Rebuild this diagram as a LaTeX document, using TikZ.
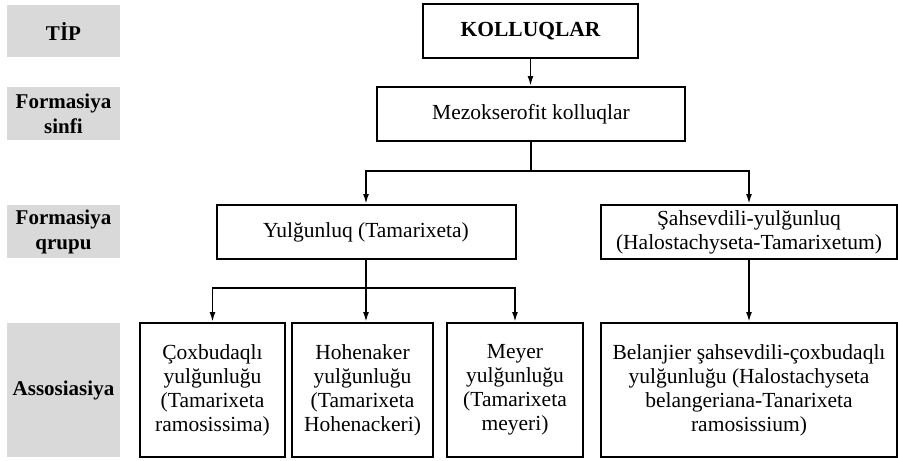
\documentclass[tikz,border=0pt]{standalone}
\usepackage{fontspec}
\setmainfont{Liberation Serif}
\usetikzlibrary{arrows.meta}
\definecolor{labelgray}{HTML}{D9D9D9}
\tikzset{
  levellabel/.style={fill=labelgray, inner sep=0pt, align=center,
    font=\fontsize{21}{25}\selectfont\bfseries},
  unitbox/.style={draw, line width=2pt, inner sep=0pt, align=center,
    font=\fontsize{21.5}{24}\selectfont},
  link/.style={line width=1.8pt},
  arr/.style={line width=1.8pt, -{Latex[length=10pt,width=6pt]}}
}
\begin{document}
\begin{tikzpicture}[x=1pt,y=-1pt]
\useasboundingbox (0,0) rectangle (898,461);

% level labels on the left
\node[levellabel, minimum width=113pt, minimum height=52pt] (tip) at (63.5,31) {TİP};
\node[levellabel, minimum width=113pt, minimum height=53pt] (sinfi) at (63.5,113.5) {Formasiya\\sinfi};
\node[levellabel, minimum width=113pt, minimum height=53pt] (qrupu) at (63.5,231.5) {Formasiya\\qrupu};
\node[levellabel, minimum width=113pt, minimum height=134pt] (assos) at (63.5,390) {Assosiasiya};

% hierarchy boxes
\node[unitbox, minimum width=215pt, minimum height=54pt, font=\fontsize{21.5}{24}\selectfont\bfseries] (kol) at (530.5,31) {KOLLUQLAR};
\node[unitbox, minimum width=308pt, minimum height=54pt] (mezo) at (531,114) {Mezokserofit kolluqlar};
\node[unitbox, minimum width=299pt, minimum height=54pt] (yul) at (366,232) {Yulğunluq (Tamarixeta)};
\node[unitbox, minimum width=296pt, minimum height=54pt] (sah) at (749,232) {Şahsevdili-yulğunluq\\(Halostachyseta-Tamarixetum)};

\node[unitbox, minimum width=145pt, minimum height=134pt] (a1) at (212.5,390) {Çoxbudaqlı\\yulğunluğu\\(Tamarixeta\\ramosissima)};
\node[unitbox, minimum width=141pt, minimum height=134pt] (a2) at (362.5,390) {Hohenaker\\yulğunluğu\\(Tamarixeta\\Hohenackeri)};
\node[unitbox, minimum width=136pt, minimum height=134pt] (a3) at (515,390) {Meyer\\yulğunluğu\\(Tamarixeta\\meyeri)};
\node[unitbox, minimum width=296pt, minimum height=134pt] (a4) at (749,390) {Belanjier şahsevdili-çoxbudaqlı\\yulğunluğu (Halostachyseta\\belangeriana-Tanarixeta\\ramosissium)};

% connectors
\draw[arr] (kol.south) -- (kol.south |- mezo.north);
\coordinate (j1) at (531,171);
\draw[link] (mezo.south) -- (j1);
\draw[arr] (j1) -| (yul.north);
\draw[arr] (j1) -| (sah.north);

\coordinate (j2) at (366,288);
\draw[link] (yul.south) -- (j2);
\draw[arr] (j2) -- (j2 |- a2.north);
\draw[arr] (j2) -| (a1.north);
\draw[arr] (j2) -| (a3.north);
\draw[arr] (sah.south) -- (a4.north);
\end{tikzpicture}
\end{document}
